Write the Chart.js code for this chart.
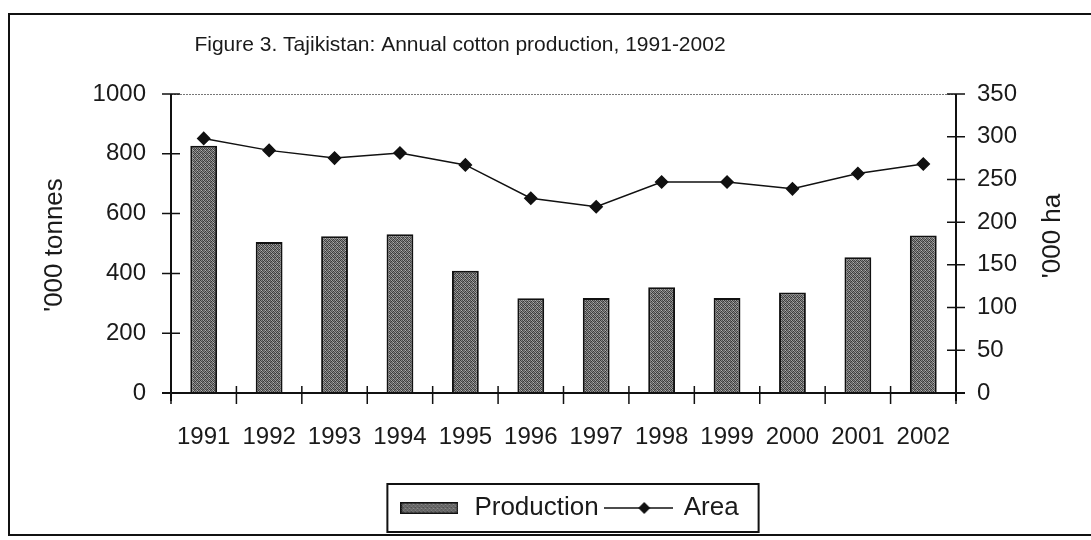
<!DOCTYPE html>
<html lang="en">
<head>
<meta charset="UTF-8">
<title>Tajikistan: Annual cotton production, 1991-2002</title>
<script src="https://cdn.jsdelivr.net/npm/chart.js"></script>
<style>
  html, body { margin: 0; padding: 0; background: #fff; }
  .page { position: relative; width: 1091px; height: 540px; overflow: hidden; }
  .frame { position: absolute; left: 8px; top: 13px; width: 1100px; height: 519px; border: 2px solid #111; }
  .wrap { position: absolute; left: 0; top: 0; width: 1091px; height: 540px; }
</style>
</head>
<body>
<div class="page">
  <div class="frame"></div>
  <div class="wrap"><canvas id="chart" width="1091" height="540"></canvas></div>
</div>
<script>
// data
const years = ['1991', '1992', '1993', '1994', '1995', '1996', '1997', '1998', '1999', '2000', '2001', '2002'];
const production = [827, 505, 524, 531, 409, 317, 318, 354, 318, 336, 454, 527]; // '000 tonnes
const area = [298, 284, 275, 281, 267, 228, 218, 247, 247, 239, 257, 268];       // '000 ha
const leftTicks = [0, 200, 400, 600, 800, 1000];
const rightTicks = [0, 50, 100, 150, 200, 250, 300, 350];

const FONT = "'Liberation Sans', Arial, sans-serif";
const INK = '#1a1a1a';

// gray speckled fill like the scanned bars
function makeTexture() {
    const c = document.createElement('canvas');
    c.width = 4; c.height = 4;
    const g = c.getContext('2d');
    const shades = [
        ['#3a3a3a', '#8a8a8a', '#4c4c4c', '#a0a0a0'],
        ['#9a9a9a', '#444', '#747474', '#363636'],
        ['#5a5a5a', '#b0b0b0', '#404040', '#808080'],
        ['#868686', '#383838', '#949494', '#505050']
    ];
    shades.forEach((row, y) => row.forEach((col, x) => { g.fillStyle = col; g.fillRect(x, y, 1, 1); }));
    return g.createPattern(c, 'repeat');
}

const canvas = document.getElementById('chart');
const texture = makeTexture();

// legend icons
function prodIcon() {
    const c = document.createElement('canvas');
    c.width = 58; c.height = 12;
    const g = c.getContext('2d');
    g.fillStyle = makeTexture();
    g.fillRect(0, 0, 58, 12);
    g.strokeStyle = '#111'; g.lineWidth = 1.5;
    g.strokeRect(0.75, 0.75, 56.5, 10.5);
    return c;
}
function areaIcon() {
    const c = document.createElement('canvas');
    c.width = 69; c.height = 14;
    const g = c.getContext('2d');
    g.strokeStyle = '#111'; g.lineWidth = 1.5;
    g.beginPath(); g.moveTo(0, 7); g.lineTo(69, 7); g.stroke();
    g.fillStyle = '#111';
    g.beginPath(); g.moveTo(40, 1); g.lineTo(46, 7); g.lineTo(40, 13); g.lineTo(34, 7); g.closePath(); g.fill();
    return c;
}

const decor = {
    id: 'decor',
    afterDatasetsDraw(chart) {
        const { ctx, chartArea: a, scales } = chart;
        ctx.save();
        // dotted top edge of plot
        ctx.strokeStyle = '#777'; ctx.lineWidth = 1; ctx.setLineDash([2, 1]);
        ctx.beginPath(); ctx.moveTo(a.left, a.top + 0.5); ctx.lineTo(a.right, a.top + 0.5); ctx.stroke();
        ctx.setLineDash([]);
        // axis lines
        ctx.strokeStyle = '#111'; ctx.lineWidth = 2;
        ctx.beginPath();
        ctx.moveTo(a.left, a.top); ctx.lineTo(a.left, a.bottom + 8);
        ctx.moveTo(a.right, a.top); ctx.lineTo(a.right, a.bottom + 8);
        ctx.moveTo(a.left - 9, a.bottom); ctx.lineTo(a.right + 9, a.bottom);
        ctx.stroke();
        // tick marks crossing the axes
        ctx.lineWidth = 1.5;
        ctx.beginPath();
        leftTicks.forEach(v => {
            const y = scales.y.getPixelForValue(v);
            ctx.moveTo(a.left - 9, y); ctx.lineTo(a.left + 9, y);
        });
        rightTicks.forEach(v => {
            const y = scales.y2.getPixelForValue(v);
            ctx.moveTo(a.right - 9, y); ctx.lineTo(a.right + 9, y);
        });
        for (let i = 0; i <= years.length; i++) {
            const x = scales.x.getPixelForValue(i - 0.5);
            ctx.moveTo(x, a.bottom - 7); ctx.lineTo(x, a.bottom + 11);
        }
        ctx.stroke();
        ctx.restore();
    },
    afterDraw(chart) {
        const { ctx, legend } = chart;
        ctx.save();
        ctx.fillStyle = INK;
        ctx.textAlign = 'center'; ctx.textBaseline = 'middle';
        ctx.font = '21px ' + FONT;
        ctx.fillText('Figure 3. Tajikistan: Annual cotton production, 1991-2002', 460, 45);
        ctx.font = '26px ' + FONT;
        ctx.translate(55, 245); ctx.rotate(-Math.PI / 2);
        ctx.fillText("'000 tonnes", 0, 0);
        ctx.setTransform(1, 0, 0, 1, 0, 0);
        ctx.translate(1053, 236); ctx.rotate(-Math.PI / 2);
        ctx.fillText("'000 ha", 0, 0);
        ctx.setTransform(1, 0, 0, 1, 0, 0);
        // legend box
        const hb = legend.legendHitBoxes;
        if (hb && hb.length) {
            const l = Math.min(...hb.map(h => h.left)) - 10;
            const r = Math.max(...hb.map(h => h.left + h.width)) + 20;
            const t = Math.min(...hb.map(h => h.top)) - 11;
            const b = Math.max(...hb.map(h => h.top + h.height)) + 11;
            ctx.strokeStyle = '#111'; ctx.lineWidth = 2;
            ctx.strokeRect(l, t, r - l, b - t);
        }
        ctx.restore();
    }
};

new Chart(canvas, {
    type: 'bar',
    data: {
        labels: years,
        datasets: [{
            type: 'bar',
            label: 'Production',
            data: production,
            yAxisID: 'y',
            backgroundColor: texture,
            borderColor: '#111',
            borderWidth: 2,
            categoryPercentage: 1,
            barPercentage: 0.41,
            order: 1
        }, {
            type: 'line',
            label: 'Area',
            data: area,
            yAxisID: 'y2',
            borderColor: '#111',
            borderWidth: 1.5,
            pointStyle: 'rectRot',
            pointRadius: 6,
            pointBackgroundColor: '#111',
            pointBorderColor: '#111',
            tension: 0,
            order: 0
        }]
    },
    options: {
        responsive: false,
        animation: false,
        layout: { padding: { left: 45, right: 0, top: 94, bottom: 9 } },
        plugins: {
            title: { display: false },
            tooltip: { enabled: false },
            legend: {
                position: 'bottom',
                labels: {
                    color: INK,
                    font: { family: FONT, size: 26 },
                    usePointStyle: true,
                    pointStyleWidth: 64,
                    padding: 8,
                    generateLabels: (chart) => chart.data.datasets.map((ds, i) => ({
                        text: ds.label,
                        datasetIndex: i,
                        fontColor: INK,
                        pointStyle: i === 0 ? prodIcon() : areaIcon(),
                        lineWidth: 0,
                        hidden: false
                    }))
                }
            }
        },
        scales: {
            x: {
                grid: { display: false, drawTicks: false },
                border: { display: false },
                ticks: { color: INK, font: { family: FONT, size: 24 }, padding: 30, maxRotation: 0, autoSkip: false },
                afterFit: s => { s.height = 94; }
            },
            y: {
                position: 'left',
                min: 0, max: 1000,
                grid: { display: false, drawTicks: false },
                border: { display: false },
                afterBuildTicks: s => { s.ticks = leftTicks.map(v => ({ value: v })); },
                ticks: { color: INK, font: { family: FONT, size: 24 }, padding: 25, callback: v => String(v) },
                afterFit: s => { s.width = 126; }
            },
            y2: {
                position: 'right',
                min: 0, max: 350,
                grid: { display: false, drawTicks: false },
                border: { display: false },
                afterBuildTicks: s => { s.ticks = rightTicks.map(v => ({ value: v })); },
                ticks: { color: INK, font: { family: FONT, size: 24 }, padding: 21, callback: v => String(v) },
                afterFit: s => { s.width = 135; }
            }
        }
    },
    plugins: [decor]
});
</script>
</body>
</html>
